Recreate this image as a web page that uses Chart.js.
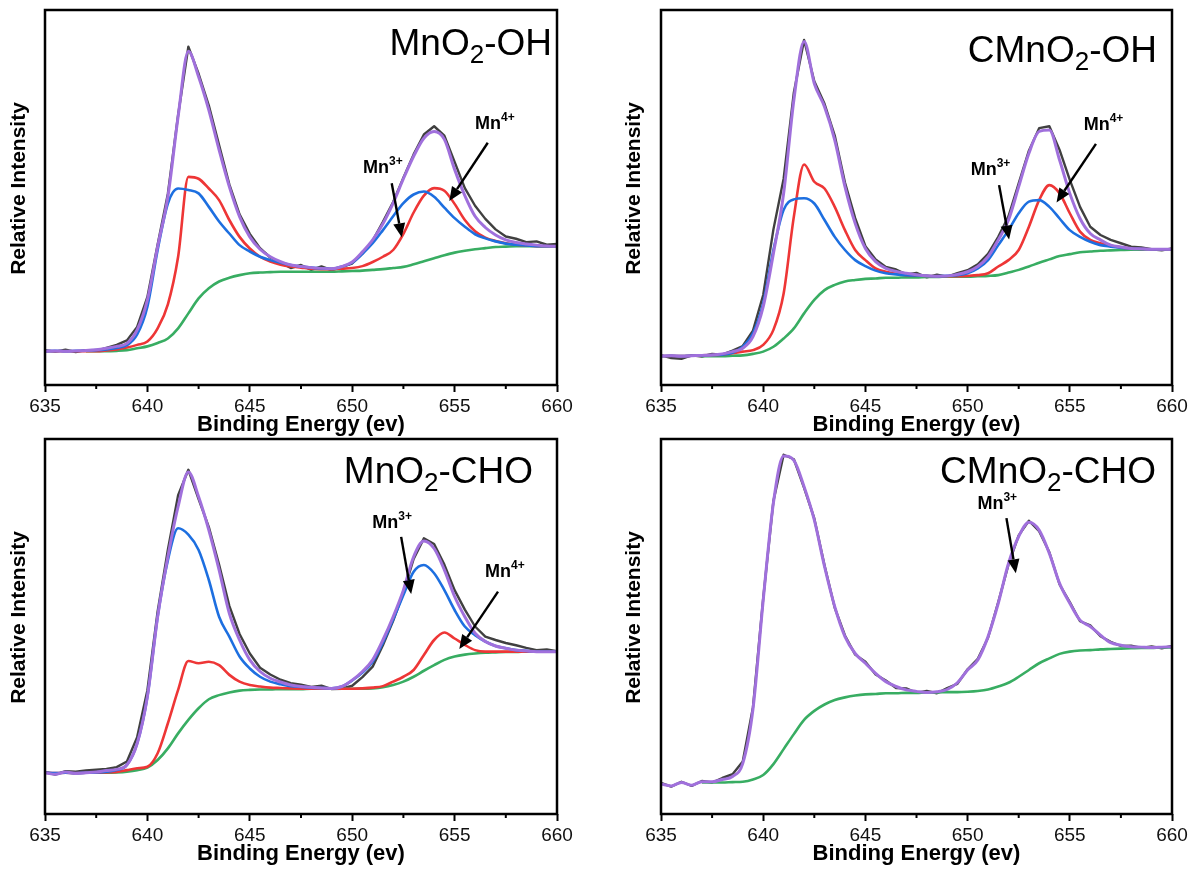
<!DOCTYPE html>
<html>
<head>
<meta charset="utf-8">
<title>Mn 2p XPS spectra</title>
<script src="https://cdn.jsdelivr.net/npm/chart.js@4.4.0/dist/chart.umd.min.js"></script>
<style>
  body { margin: 0; background: #fff; }
  #wrap { position: relative; width: 1191px; height: 871px; }
  canvas { position: absolute; }
</style>
</head>
<body>
<div id="wrap">
  <canvas id="c1" width="600" height="440" style="left:0;top:0"></canvas>
  <canvas id="c2" width="591" height="440" style="left:600px;top:0"></canvas>
  <canvas id="c3" width="600" height="441" style="left:0;top:430px"></canvas>
  <canvas id="c4" width="591" height="441" style="left:600px;top:430px"></canvas>
</div>
<script>
// binding energy (eV), shared by every panel
const energy = [635, 635.5, 636, 636.5, 637, 637.5, 638, 638.5, 639, 639.5,
  640, 640.5, 641, 641.5, 642, 642.5, 643, 643.5, 644, 644.5,
  645, 645.5, 646, 646.5, 647, 647.5, 648, 648.5, 649, 649.5,
  650, 650.5, 651, 651.5, 652, 652.5, 653, 653.5, 654, 654.5,
  655, 655.5, 656, 656.5, 657, 657.5, 658, 658.5, 659, 659.5, 660];
const minorTicks = [637.5, 642.5, 647.5, 652.5, 657.5];

// MnO2-OH
const p1Raw = [9.3, 8.9, 9.4, 8.8, 9.3, 9.1, 9.9, 10.7, 11.9, 15.5,
  23.5, 37.5, 51.0, 72.0, 90.2, 83.0, 74.5, 64.0, 53.5, 45.5,
  40.3, 36.5, 34.0, 32.6, 31.2, 32.0, 30.7, 31.6, 30.6, 31.5,
  32.4, 35.0, 38.5, 43.5, 48.8, 55.3, 61.5, 66.8, 69.0, 66.5,
  59.5, 52.5, 47.8, 44.3, 41.5, 39.6, 39.0, 38.1, 38.3, 37.4, 37.6];
const p1Fit = [9.0, 9.1, 9.0, 9.1, 9.2, 9.4, 9.8, 10.3, 11.1, 14.7,
  22.7, 36.9, 50.2, 71.6, 89.0, 82.2, 73.3, 62.7, 52.9, 44.9,
  39.5, 36.2, 34.2, 32.9, 32.0, 31.6, 31.3, 31.1, 31.0, 31.6,
  32.8, 35.5, 38.7, 43.0, 48.5, 55.0, 61.0, 65.8, 67.6, 65.5,
  57.5, 50.5, 45.0, 42.0, 40.0, 38.7, 38.0, 37.6, 37.3, 37.1, 37.0];
const p1Mn4 = [9.0, 9.0, 9.0, 9.0, 9.0, 9.0, 9.2, 9.5, 10.0, 10.7,
  11.6, 15.1, 21.5, 34.2, 55.5, 55.0, 52.4, 49.3, 44.0, 39.5,
  36.4, 34.2, 32.9, 32.1, 31.6, 31.3, 31.0, 30.9, 30.9, 31.0,
  31.2, 31.7, 32.8, 34.2, 36.0, 40.3, 46.0, 50.5, 52.5, 51.8,
  48.3, 44.0, 41.0, 39.3, 38.4, 37.8, 37.4, 37.2, 37.0, 37.0, 37.0];
const p1Mn3 = [9.0, 9.1, 9.0, 9.1, 9.2, 9.3, 9.5, 9.9, 10.6, 13.5,
  20.9, 36.0, 48.4, 52.4, 52.0, 51.1, 47.5, 43.6, 40.4, 37.3,
  35.6, 34.2, 33.3, 32.6, 32.0, 31.6, 31.3, 31.1, 31.0, 31.6,
  32.6, 35.0, 37.8, 41.3, 45.0, 48.5, 50.8, 51.6, 50.2, 47.3,
  44.5, 42.2, 40.2, 39.1, 38.3, 37.7, 37.4, 37.2, 37.0, 37.0, 37.0];
const p1Bg = [null, null, null, null, 9.0, 9.0, 9.0, 9.1, 9.3, 9.8,
  10.3, 11.2, 12.4, 15.1, 19.1, 23.1, 25.8, 27.6, 28.6, 29.3,
  29.8, 30.0, 30.1, 30.2, 30.2, 30.2, 30.2, 30.2, 30.2, 30.3,
  30.4, 30.5, 30.7, 30.9, 31.2, 31.5, 32.2, 33.0, 33.8, 34.6,
  35.3, 35.8, 36.2, 36.5, 36.8, 36.9, 37.0, 37.0, 37.0, 37.0, 37.0];

// CMnO2-OH
const p2Raw = [7.9, 7.2, 7.0, 7.9, 7.6, 8.3, 8.1, 9.2, 10.4, 14.5,
  24.0, 41.5, 55.0, 78.0, 92.0, 81.0, 75.0, 66.5, 54.0, 44.5,
  37.0, 33.5, 31.5, 30.8, 29.5, 29.9, 28.7, 29.4, 28.9, 29.8,
  30.6, 32.2, 35.0, 39.5, 45.0, 53.8, 62.5, 68.5, 69.0, 62.7,
  54.7, 47.5, 42.2, 40.0, 38.7, 37.8, 36.9, 36.7, 36.2, 35.9, 36.4];
const p2Fit = [7.7, 7.8, 7.7, 7.8, 7.9, 8.0, 8.3, 8.9, 9.8, 12.9,
  20.9, 35.1, 51.1, 76.0, 91.6, 80.4, 74.2, 65.3, 52.9, 43.1,
  36.4, 32.9, 31.1, 30.3, 29.8, 29.4, 29.1, 29.0, 29.1, 29.5,
  30.2, 31.6, 34.2, 38.7, 44.0, 52.9, 61.8, 67.6, 68.0, 60.0,
  51.1, 44.4, 40.4, 38.7, 37.3, 36.8, 36.4, 36.3, 36.2, 36.2, 36.2];
const p2Mn4 = [7.7, 7.8, 7.7, 7.8, 7.9, 8.0, 8.1, 8.5, 8.9, 9.3,
  10.7, 14.7, 24.4, 44.9, 58.8, 54.2, 52.4, 47.5, 41.3, 36.0,
  33.3, 31.1, 30.2, 29.7, 29.3, 29.2, 29.1, 29.0, 29.0, 29.0,
  29.1, 29.3, 29.8, 31.6, 33.3, 36.0, 42.2, 49.3, 53.3, 51.1,
  45.8, 40.9, 38.7, 37.8, 37.1, 36.7, 36.4, 36.3, 36.2, 36.2, 36.2];
const p2Mn3 = [7.7, 7.8, 7.7, 7.8, 7.9, 8.0, 8.1, 8.6, 10.2, 13.8,
  21.8, 36.0, 46.7, 49.5, 49.8, 48.4, 44.0, 39.5, 36.0, 33.3,
  31.7, 30.5, 29.8, 29.5, 29.3, 29.2, 29.1, 29.0, 29.1, 29.3,
  29.8, 31.1, 33.3, 37.3, 41.3, 45.8, 48.9, 49.3, 47.5, 44.4,
  41.3, 39.5, 38.2, 37.3, 36.9, 36.6, 36.4, 36.3, 36.2, 36.2, 36.2];
const p2Bg = [null, null, null, null, 7.7, 7.7, 7.7, 7.8, 7.9, 8.3,
  8.9, 10.2, 12.4, 15.1, 19.1, 22.7, 25.3, 26.7, 27.6, 28.0,
  28.3, 28.4, 28.6, 28.6, 28.7, 28.7, 28.8, 28.8, 28.9, 28.9,
  28.9, 29.0, 29.1, 29.3, 30.0, 30.7, 31.6, 32.6, 33.5, 34.4,
  34.9, 35.4, 35.6, 35.8, 35.9, 36.0, 36.1, 36.1, 36.2, 36.2, 36.2];

// MnO2-CHO
const p3Raw = [11.2, 10.5, 11.4, 11.3, 11.6, 11.8, 12.0, 12.5, 14.0, 20.5,
  33.0, 54.0, 70.5, 85.0, 91.8, 84.0, 76.5, 66.5, 55.5, 48.0,
  42.8, 39.0, 37.2, 35.8, 34.9, 34.5, 33.9, 34.2, 33.3, 33.4,
  34.2, 36.5, 39.3, 45.0, 51.5, 59.0, 68.0, 73.5, 72.0, 66.5,
  59.7, 54.5, 50.0, 47.3, 46.4, 45.6, 45.0, 44.3, 43.7, 43.9, 43.4];
const p3Fit = [11.0, 10.6, 11.2, 10.8, 11.0, 11.2, 11.6, 11.9, 13.1, 18.8,
  31.3, 52.6, 68.6, 82.0, 91.2, 84.6, 75.7, 65.1, 53.5, 46.4,
  41.1, 38.0, 36.2, 35.2, 34.4, 34.0, 33.8, 33.6, 33.5, 34.0,
  35.7, 38.0, 41.1, 46.4, 52.6, 59.7, 68.6, 72.8, 70.8, 65.1,
  58.0, 52.6, 48.2, 46.0, 44.8, 44.2, 43.7, 43.5, 43.3, 43.3, 43.3];
const p3Mn4 = [11.0, 10.9, 11.0, 10.9, 11.0, 11.0, 11.1, 11.2, 11.7, 12.2,
  12.6, 16.2, 24.2, 33.1, 40.8, 40.2, 40.6, 39.7, 37.1, 35.3,
  34.4, 34.0, 33.7, 33.6, 33.5, 33.4, 33.4, 33.4, 33.4, 33.4,
  33.4, 33.5, 33.7, 34.1, 35.3, 36.6, 38.4, 42.4, 46.4, 48.4,
  46.8, 45.1, 43.7, 43.3, 43.3, 43.3, 43.3, 43.3, 43.3, 43.3, 43.3];
const p3Mn3 = [11.0, 10.9, 11.0, 10.9, 11.0, 11.1, 11.3, 11.7, 13.1, 18.8,
  31.3, 52.6, 67.7, 76.2, 74.5, 70.4, 62.4, 52.6, 47.3, 42.0,
  38.8, 36.6, 35.3, 34.6, 34.1, 33.9, 33.7, 33.6, 33.5, 34.0,
  35.6, 37.7, 40.6, 45.7, 51.9, 58.4, 64.6, 66.4, 64.2, 59.7,
  54.4, 50.0, 47.7, 46.0, 44.8, 44.2, 43.7, 43.5, 43.3, 43.3, 43.3];
const p3Bg = [null, null, null, null, 11.0, 11.0, 11.0, 11.1, 11.3, 11.7,
  12.4, 14.4, 17.5, 21.5, 25.1, 28.2, 30.6, 31.7, 32.4, 32.9,
  33.1, 33.2, 33.2, 33.3, 33.3, 33.3, 33.4, 33.4, 33.4, 33.4,
  33.4, 33.4, 33.5, 33.8, 34.4, 35.3, 36.6, 38.2, 39.7, 41.1,
  42.0, 42.5, 42.8, 43.0, 43.1, 43.2, 43.2, 43.3, 43.3, 43.3, 43.3];

// CMnO2-CHO
const p4Raw = [8.3, 7.3, 8.6, 7.5, 8.8, 8.4, 9.6, 10.6, 14.0, 28.5,
  57.5, 83.5, 95.8, 94.6, 87.0, 78.8, 66.3, 55.0, 47.6, 42.5,
  40.6, 37.2, 35.6, 33.6, 33.5, 32.3, 32.8, 32.2, 33.6, 34.7,
  38.6, 41.4, 47.0, 56.5, 66.5, 74.3, 78.2, 75.4, 69.8, 61.2,
  56.5, 51.4, 50.3, 47.4, 45.9, 44.8, 44.9, 44.3, 44.7, 44.2, 44.8];
const p4Fit = [8.0, 7.5, 8.4, 7.7, 8.6, 8.6, 9.2, 10.0, 13.5, 28.0,
  57.0, 83.0, 95.5, 94.3, 87.3, 78.4, 66.0, 55.3, 47.3, 42.8,
  40.2, 37.5, 35.3, 34.0, 33.1, 32.7, 32.4, 32.6, 33.2, 35.0,
  38.4, 41.1, 47.3, 56.2, 66.8, 74.0, 77.8, 75.7, 69.5, 61.5,
  56.2, 51.7, 50.0, 47.7, 45.7, 45.0, 44.6, 44.5, 44.4, 44.5, 44.6];
const p4Bg = [null, null, null, null, 8.4, 8.4, 8.4, 8.5, 8.6, 9.2,
  10.4, 13.3, 17.3, 21.3, 25.1, 27.5, 29.2, 30.4, 31.1, 31.6,
  31.9, 32.0, 32.2, 32.2, 32.3, 32.3, 32.4, 32.4, 32.5, 32.5,
  32.6, 32.8, 33.2, 34.0, 35.0, 36.6, 38.4, 40.2, 41.5, 42.7,
  43.3, 43.6, 43.7, 43.9, 44.0, 44.1, 44.2, 44.3, 44.3, 44.4, 44.4];

const FONT = "'Liberation Sans', Arial, Helvetica, sans-serif";
Chart.defaults.font.family = FONT;

const colors = { raw: '#404040', fit: '#a070dc', mn4: '#ee3636', mn3: '#1d6fe0', bg: '#38ad62' };

function series(values, color, width, smooth) {
  return {
    data: energy.map((e, i) => ({ x: e, y: values[i] })),
    borderColor: color,
    borderWidth: width,
    pointRadius: 0,
    fill: false,
    tension: smooth ? 0.4 : 0,
    cubicInterpolationMode: smooth ? 'monotone' : 'default',
    borderJoinStyle: 'round',
  };
}

function drawParts(ctx, parts, x, y, alignRight) {
  let w = 0;
  parts.forEach(p => { ctx.font = p.font; p.w = ctx.measureText(p.text).width; w += p.w; });
  let cx = alignRight ? x - w : x;
  parts.forEach(p => { ctx.font = p.font; ctx.fillText(p.text, cx, y + p.dy); cx += p.w; });
}

function drawArrow(ctx, x1, y1, x2, y2) {
  const ang = Math.atan2(y2 - y1, x2 - x1);
  const head = 14, half = 6;
  const bx = x2 - head * Math.cos(ang), by = y2 - head * Math.sin(ang);
  ctx.beginPath(); ctx.moveTo(x1, y1); ctx.lineTo(bx, by); ctx.stroke();
  ctx.beginPath();
  ctx.moveTo(x2, y2);
  ctx.lineTo(bx + half * Math.sin(ang), by - half * Math.cos(ang));
  ctx.lineTo(bx - half * Math.sin(ang), by + half * Math.cos(ang));
  ctx.closePath(); ctx.fill();
}

// frame, minor ticks, y title, sample name, Mn labels and arrows
const panelDecor = {
  id: 'panelDecor',
  afterDraw(chart, args, opts) {
    const { ctx, chartArea: a, scales: { x, y } } = chart;
    ctx.save();
    ctx.strokeStyle = '#000';
    ctx.fillStyle = '#000';
    ctx.lineWidth = 2.5;
    ctx.strokeRect(a.left, a.top, a.right - a.left, a.bottom - a.top);

    ctx.lineWidth = 2;
    minorTicks.forEach(v => {
      const px = x.getPixelForValue(v);
      ctx.beginPath(); ctx.moveTo(px, a.bottom); ctx.lineTo(px, a.bottom + 4); ctx.stroke();
    });

    ctx.save();
    ctx.translate(opts.yTitleX, (a.top + a.bottom) / 2 - 9);
    ctx.rotate(-Math.PI / 2);
    ctx.font = 'bold 21px ' + FONT;
    ctx.textAlign = 'center';
    ctx.textBaseline = 'middle';
    ctx.fillText('Relative Intensity', 0, 0);
    ctx.restore();

    ctx.textAlign = 'left';
    ctx.textBaseline = 'alphabetic';
    const [pre, sub, post] = opts.name;
    drawParts(ctx, [
      { text: pre, font: '37px ' + FONT, dy: 0 },
      { text: sub, font: '26px ' + FONT, dy: 8 },
      { text: post, font: '37px ' + FONT, dy: 0 },
    ], a.right - opts.nameRight, a.top + opts.nameBase, true);

    opts.labels.forEach(l => {
      drawParts(ctx, [
        { text: 'Mn', font: 'bold 18px ' + FONT, dy: 0 },
        { text: l.sup, font: 'bold 12px ' + FONT, dy: -8 },
      ], x.getPixelForValue(l.x), y.getPixelForValue(l.y), false);
    });

    ctx.lineWidth = 2.4;
    opts.arrows.forEach(([e1, v1, e2, v2]) => {
      drawArrow(ctx, x.getPixelForValue(e1), y.getPixelForValue(v1),
        x.getPixelForValue(e2), y.getPixelForValue(v2));
    });
    ctx.restore();
  }
};

function makeChart(id, sets, pad, yWidth, decor) {
  return new Chart(document.getElementById(id), {
    type: 'line',
    data: { datasets: sets },
    options: {
      responsive: false,
      animation: false,
      events: [],
      layout: { padding: pad },
      plugins: {
        legend: { display: false },
        tooltip: { enabled: false },
        panelDecor: decor,
      },
      scales: {
        x: {
          type: 'linear',
          min: 635,
          max: 660,
          ticks: { stepSize: 5, color: '#111', font: { size: 19 }, padding: 3, maxRotation: 0 },
          grid: { drawOnChartArea: false, tickLength: 7, tickWidth: 2, tickColor: '#000' },
          border: { display: false },
          title: {
            display: true,
            text: 'Binding Energy (ev)',
            color: '#000',
            font: { size: 22, weight: 'bold' },
            padding: 0,
          },
          afterFit: s => { s.height = 53; },
        },
        y: {
          min: 0,
          max: 100,
          ticks: { display: false },
          grid: { display: false },
          border: { display: false },
          afterFit: s => { s.width = yWidth; },
        },
      },
    },
    plugins: [panelDecor],
  });
}

makeChart('c1', [
  series(p1Fit, colors.fit, 3, true),
  series(p1Mn3, colors.mn3, 2.6, true),
  series(p1Mn4, colors.mn4, 2.6, true),
  series(p1Bg, colors.bg, 2.6, true),
  series(p1Raw, colors.raw, 2.4, false),
], { left: 0, top: 10, right: 43, bottom: 2 }, 45, {
  yTitleX: 19.5, name: ['MnO', '2', '-OH'], nameRight: 5, nameBase: 45,
  labels: [{ x: 650.53, y: 56.5, sup: '3+' }, { x: 656.0, y: 68.2, sup: '4+' }],
  arrows: [[651.93, 53.8, 652.42, 39.4], [656.62, 64.6, 654.74, 49.1]],
});

makeChart('c2', [
  series(p2Fit, colors.fit, 3, true),
  series(p2Mn3, colors.mn3, 2.6, true),
  series(p2Mn4, colors.mn4, 2.6, true),
  series(p2Bg, colors.bg, 2.6, true),
  series(p2Raw, colors.raw, 2.4, false),
], { left: 0, top: 10, right: 19, bottom: 2 }, 61, {
  yTitleX: 34.5, name: ['CMnO', '2', '-OH'], nameRight: 15, nameBase: 52,
  labels: [{ x: 650.15, y: 56.0, sup: '3+' }, { x: 655.68, y: 68.0, sup: '4+' }],
  arrows: [[651.54, 53.3, 652.03, 38.8], [656.28, 64.3, 654.35, 48.7]],
});

makeChart('c3', [
  series(p3Fit, colors.fit, 3, true),
  series(p3Mn3, colors.mn3, 2.6, true),
  series(p3Mn4, colors.mn4, 2.6, true),
  series(p3Bg, colors.bg, 2.6, true),
  series(p3Raw, colors.raw, 2.4, false),
], { left: 0, top: 9, right: 43, bottom: 4 }, 45, {
  yTitleX: 19.5, name: ['MnO', '2', '-CHO'], nameRight: 24, nameBase: 44,
  labels: [{ x: 650.98, y: 76.2, sup: '3+' }, { x: 656.49, y: 63.1, sup: '4+' }],
  arrows: [[652.39, 73.9, 652.88, 58.7], [657.12, 59.3, 655.23, 44.0]],
});

makeChart('c4', [
  series(p4Fit, colors.fit, 3, true),
  series(p4Bg, colors.bg, 2.6, true),
  series(p4Raw, colors.raw, 2.4, false),
], { left: 0, top: 9, right: 19, bottom: 4 }, 61, {
  yTitleX: 34.5, name: ['CMnO', '2', '-CHO'], nameRight: 16, nameBase: 44,
  labels: [{ x: 650.48, y: 81.3, sup: '3+' }],
  arrows: [[651.90, 78.9, 652.36, 64.2]],
});
</script>
</body>
</html>
